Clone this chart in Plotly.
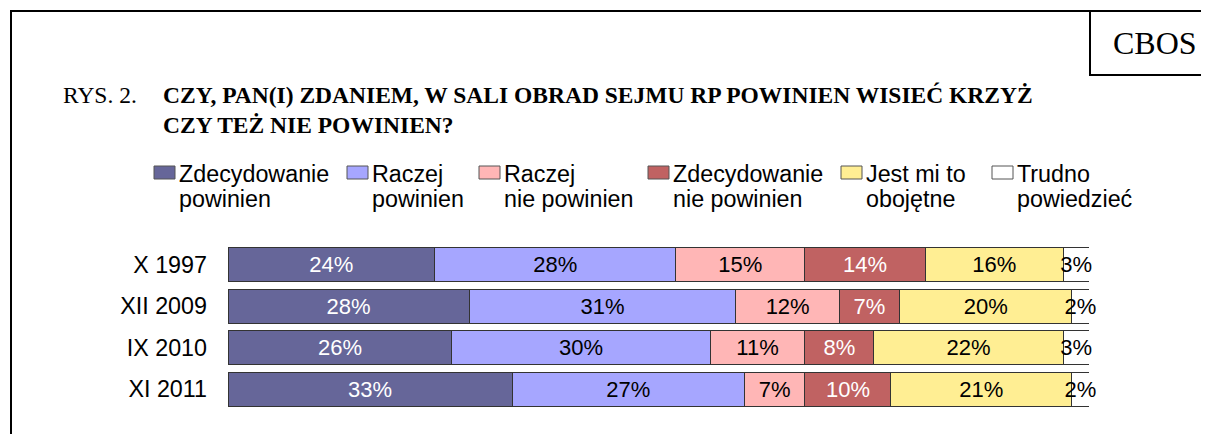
import plotly.graph_objects as go

categories = ["X 1997", "XII 2009", "IX 2010", "XI 2011"]
series_names = [
    ["Zdecydowanie", "powinien"],
    ["Raczej", "powinien"],
    ["Raczej", "nie powinien"],
    ["Zdecydowanie", "nie powinien"],
    ["Jest mi to", "obojętne"],
    ["Trudno", "powiedzieć"],
]
zdecydowanie_powinien = [24, 28, 26, 33]
raczej_powinien = [28, 31, 30, 27]
raczej_nie_powinien = [15, 12, 11, 7]
zdecydowanie_nie_powinien = [14, 7, 8, 10]
obojetne = [16, 20, 22, 21]
trudno_powiedziec = [3, 2, 3, 2]

values = [zdecydowanie_powinien, raczej_powinien, raczej_nie_powinien,
          zdecydowanie_nie_powinien, obojetne, trudno_powiedziec]
colors = ["#666699", "#A6A6FF", "#FFB6B6", "#C06262", "#FFEE93", "#FFFFFF"]
text_colors = ["white", "black", "black", "white", "black", "black"]

# page offset (body margin) compensation
OFF = 8
PAGE_W, PAGE_H = 1209, 434
W, H = PAGE_W - OFF, PAGE_H - OFF
PL, PR, PT, PB = 228, 1089, 244, 410  # page coords of plot area


def px(x):
    return (x - PL) / (PR - PL)


def py(y):
    return (PB - y) / (PB - PT)


SANS = "Liberation Sans, Arial, sans-serif"
SERIF = "Liberation Serif, Times New Roman, serif"

fig = go.Figure()
for name, vals, col, tcol in zip(series_names, values, colors, text_colors):
    fig.add_trace(go.Bar(
        y=categories, x=vals, orientation="h", name=" ".join(name),
        marker=dict(color=col, line=dict(color="#333333", width=1)),
        text=[f"{v}%" for v in vals], textposition="inside",
        insidetextanchor="middle", textangle=0, constraintext="none",
        insidetextfont=dict(family=SANS, size=22, color=tcol),
        cliponaxis=False, showlegend=False, hoverinfo="skip",
    ))

shapes = []
annotations = []

# frame
shapes.append(dict(type="path", xref="paper", yref="paper",
                   path=f"M {px(11)} {py(PAGE_H + 10)} L {px(11)} {py(11)} L {px(PAGE_W + 10)} {py(11)}",
                   line=dict(color="black", width=2)))
# CBOS box
shapes.append(dict(type="path", xref="paper", yref="paper",
                   path=f"M {px(1090)} {py(11)} L {px(1090)} {py(75)} L {px(PAGE_W + 10)} {py(75)}",
                   line=dict(color="black", width=2)))
annotations.append(dict(text="CBOS", x=px(1155), y=py(43), xref="paper", yref="paper",
                        showarrow=False, xanchor="center", yanchor="middle",
                        font=dict(family=SERIF, size=32, color="black")))
annotations.append(dict(text="RYS. 2.", x=px(61), y=py(95), xref="paper", yref="paper",
                        showarrow=False, xanchor="left", yanchor="middle",
                        font=dict(family=SERIF, size=23.5, color="black")))
for txt, yy in [("CZY, PAN(I) ZDANIEM, W SALI OBRAD SEJMU RP POWINIEN WISIEĆ KRZYŻ", 95),
                ("CZY TEŻ NIE POWINIEN?", 125)]:
    annotations.append(dict(text=f"<b>{txt}</b>", x=px(161), y=py(yy), xref="paper", yref="paper",
                            showarrow=False, xanchor="left", yanchor="middle",
                            font=dict(family=SERIF, size=23.5, color="black")))

# legend
sq_x = [154, 347, 479, 648, 841, 992]
for name, col, sx in zip(series_names, colors, sq_x):
    shapes.append(dict(type="rect", xref="paper", yref="paper",
                       x0=px(sx), x1=px(sx + 21), y0=py(166), y1=py(179),
                       fillcolor=col, line=dict(color="#555555", width=1)))
    for line_txt, yy in zip(name, [174, 199]):
        annotations.append(dict(text=line_txt, x=px(sx + 23), y=py(yy), xref="paper", yref="paper",
                                showarrow=False, xanchor="left", yanchor="middle",
                                font=dict(family=SANS, size=23.3, color="black")))

fig.update_layout(
    barmode="stack", bargap=0.18,
    width=W, height=H,
    margin=dict(l=PL - OFF, r=W - (PR - OFF), t=PT - OFF, b=H - (PB - OFF)),
    paper_bgcolor="white", plot_bgcolor="white",
    xaxis=dict(range=[0, 100], visible=False, fixedrange=True),
    yaxis=dict(autorange="reversed", showgrid=False, showline=False, ticks="",
               ticklabelstandoff=20,
               tickfont=dict(family=SANS, size=23.3, color="black")),
    uniformtext=dict(minsize=22, mode="show"),
    shapes=shapes, annotations=annotations,
)

fig.write_html("out.html")
